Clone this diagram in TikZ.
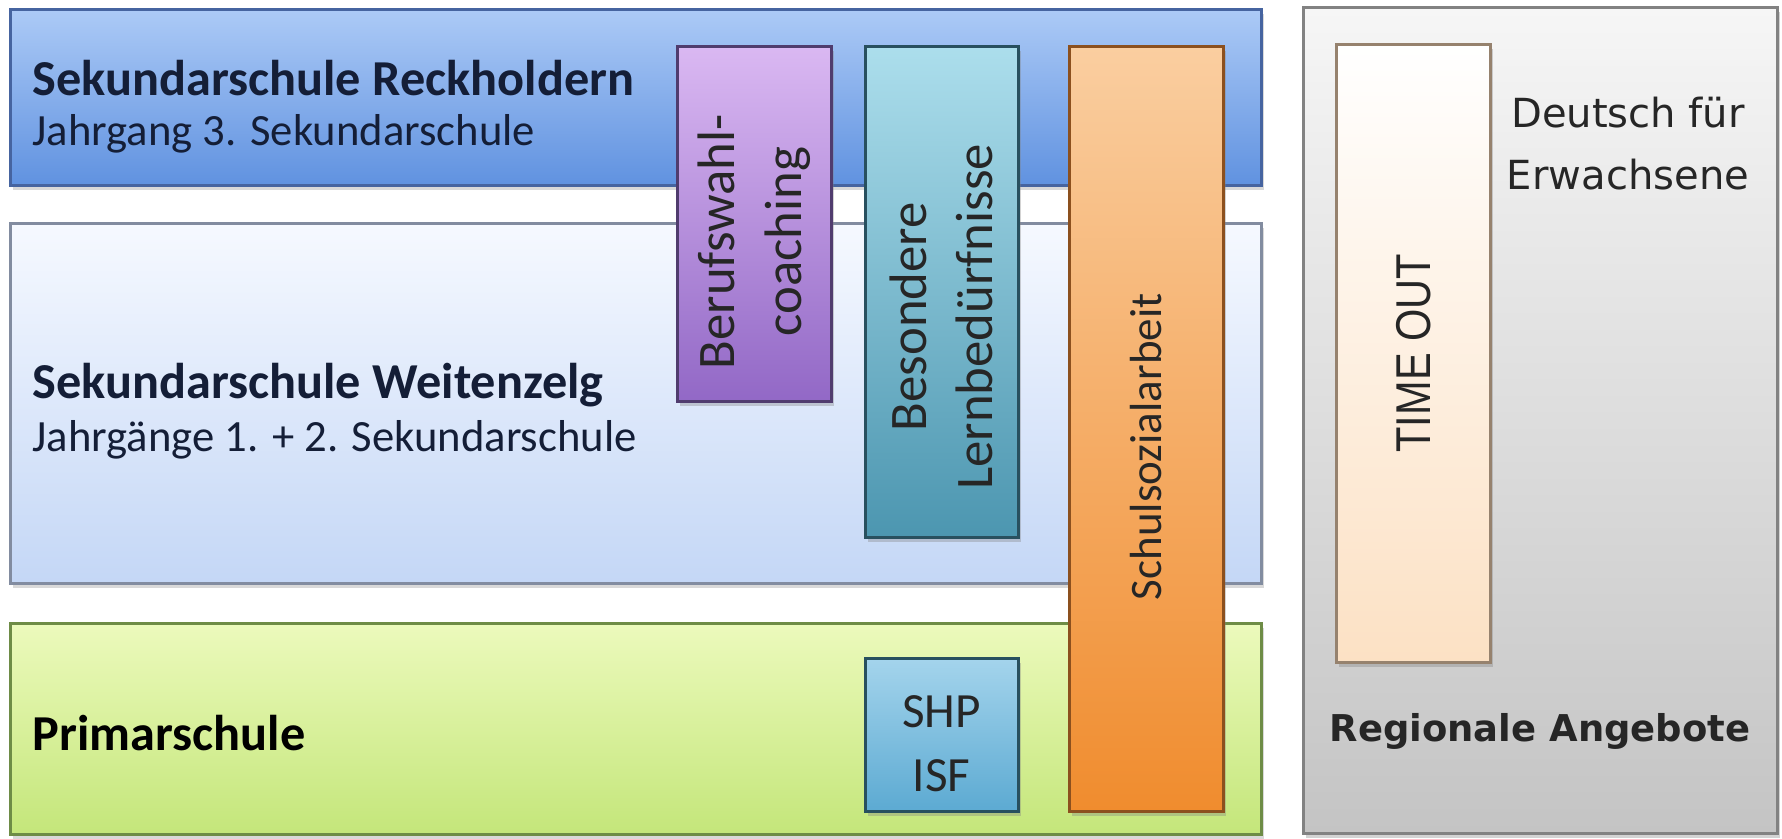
\documentclass[tikz,border=0pt]{standalone}
\usepackage{fontspec}
\setmainfont{Carlito}
\newfontfamily\verdanafont{DejaVu Sans}
\newfontfamily\narrowfont[FakeStretch=0.85]{Liberation Sans}
\usetikzlibrary{shadows}

\newlength{\du}
\setlength{\du}{0.01cm}

\definecolor{reckTop}{RGB}{172,202,246}
\definecolor{reckBot}{RGB}{96,146,224}
\definecolor{reckLine}{RGB}{70,100,160}
\definecolor{weitTop}{RGB}{246,249,255}
\definecolor{weitBot}{RGB}{196,215,246}
\definecolor{weitLine}{RGB}{130,140,160}
\definecolor{primTop}{RGB}{236,250,188}
\definecolor{primBot}{RGB}{196,230,122}
\definecolor{primLine}{RGB}{110,140,70}
\definecolor{regTop}{RGB}{246,246,246}
\definecolor{regBot}{RGB}{196,196,196}
\definecolor{regLine}{RGB}{130,130,130}
\definecolor{berufTop}{RGB}{218,184,242}
\definecolor{berufBot}{RGB}{146,104,198}
\definecolor{berufLine}{RGB}{80,60,110}
\definecolor{besTop}{RGB}{172,222,236}
\definecolor{besBot}{RGB}{76,150,176}
\definecolor{besLine}{RGB}{40,80,95}
\definecolor{sozTop}{RGB}{250,206,160}
\definecolor{sozBot}{RGB}{240,140,46}
\definecolor{sozLine}{RGB}{140,80,30}
\definecolor{shpTop}{RGB}{164,212,236}
\definecolor{shpBot}{RGB}{92,170,210}
\definecolor{timeTop}{RGB}{255,255,255}
\definecolor{timeBot}{RGB}{252,225,196}
\definecolor{timeLine}{RGB}{150,130,110}
\definecolor{navytext}{RGB}{20,30,55}

\tikzset{
  bar/.style={draw=#1Line, top color=#1Top, bottom color=#1Bot, line width=2.5\du,
    anchor=north west, inner sep=0pt, minimum width=1251\du,
    drop shadow={shadow xshift=3\du, shadow yshift=-5\du, opacity=0.3}},
  column/.style={draw=#1Line, top color=#1Top, bottom color=#1Bot, line width=2.5\du,
    anchor=north west, inner sep=0pt, minimum width=154\du,
    drop shadow={shadow xshift=3\du, shadow yshift=-5\du, opacity=0.35}},
  titletext/.style={anchor=base west, inner sep=0pt, text=navytext,
    font=\bfseries\fontsize{14.3}{17}\selectfont},
  subtext/.style={anchor=base west, inner sep=0pt, text=navytext,
    font=\fontsize{12.7}{15}\selectfont},
  vertext/.style={rotate=90, align=center, inner sep=0pt, text=black!85,
    font=\fontsize{15}{18.8}\selectfont},
  regtext/.style={anchor=base, inner sep=0pt, align=center, text=black!85,
    font=\verdanafont\fontsize{11.4}{17.6}\selectfont},
}

\begin{document}
\begin{tikzpicture}
\pgftransformxscale{1.000000}
\pgftransformyscale{-1.000000}
\useasboundingbox (0\du,0\du) rectangle (1782\du,838\du);

% Schulstufen
\node[bar=reck, minimum height=176\du] (reckholdern) at (9\du,8\du) {};
\node[bar=weit, minimum height=360\du] (weitenzelg) at (9\du,222\du) {};
\node[bar=prim, minimum height=211\du] (primar) at (9\du,622\du) {};

% Regionale Angebote
\node[column=reg, minimum width=474\du, minimum height=826\du] (regional) at (1302\du,6\du) {};
\node[column=time, minimum height=618\du] (timeout) at (1335\du,43\du) {};

% Angebote quer
\node[column=beruf, minimum height=355\du] (beruf) at (676\du,45\du) {};
\node[column=bes, minimum width=153\du, minimum height=491\du] (besondere) at (864\du,45\du) {};
\node[column=soz, minimum height=765\du] (sozial) at (1068\du,45\du) {};
\node[column=bes, top color=shpTop, bottom color=shpBot, minimum width=153\du, minimum height=153\du] (shp) at (864\du,657\du) {};

% Texte
\node[titletext] (reckTitle) at (32\du,95\du) {Sekundarschule Reckholdern};
\node[subtext] (reckSub) at (32\du,145\du) {Jahrgang 3. Sekundarschule};
\node[titletext] (weitTitle) at (32\du,398\du) {Sekundarschule Weitenzelg};
\node[subtext] (weitSub) at (32\du,451\du) {Jahrgänge 1. + 2. Sekundarschule};
\node[titletext, text=black] (primTitle) at (32\du,750\du) {Primarschule};

\node[vertext] (berufText) at ([yshift=18\du]beruf.center) {Berufswahl-\\coaching};
\node[vertext] (besText) at ([yshift=25\du]besondere.center) {Besondere\\Lernbedürfnisse};
\node[vertext, font=\fontsize{12.8}{16}\selectfont] (sozText) at ([yshift=18\du]sozial.center) {Schulsozialarbeit};
\node[align=center, inner sep=0pt, text=black!85, font=\fontsize{14}{18}\selectfont] (shpText) at ([yshift=9\du]shp.center) {SHP\\ISF};
\node[rotate=90, inner sep=0pt, text=black!85, font=\narrowfont\fontsize{13.9}{16}\selectfont] (timeText) at (timeout.center) {TIME OUT};

\node[regtext] (deutsch) at (1628\du,189\du) {Deutsch für\\Erwachsene};
\node[regtext, font=\verdanafont\bfseries\fontsize{10.5}{13}\selectfont] (regTitle) at (1540\du,741\du) {Regionale Angebote};
\end{tikzpicture}
\end{document}
